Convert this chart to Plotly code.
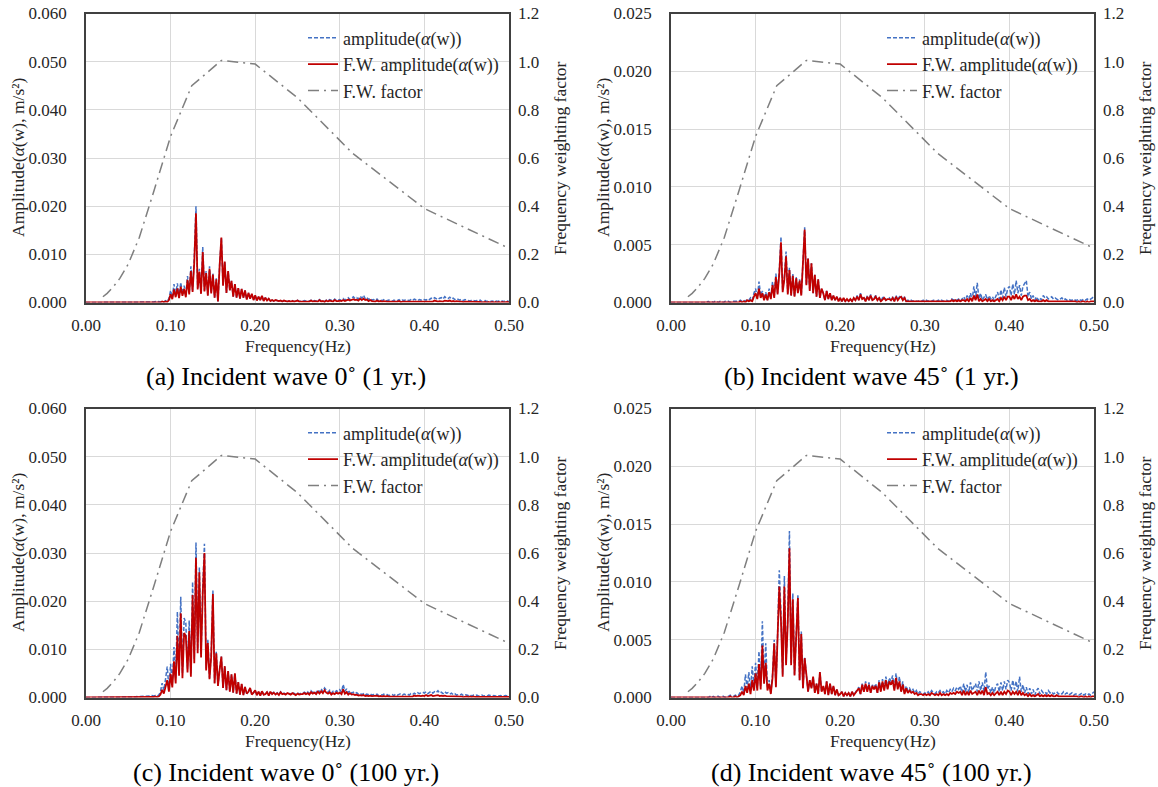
import plotly.graph_objects as go

# ---------------- data ----------------
# frequency grid of the spectra (Hz)
FREQ = [round(i * 0.002, 3) for i in range(251)]
UNIT = 1e-4  # spectra values below are in 1e-4 m/s^2

# frequency weighting factor
WF_FREQ = [0.02, 0.025, 0.0315, 0.04, 0.05, 0.063, 0.08, 0.10, 0.125, 0.16, 0.20, 0.25, 0.315, 0.40, 0.50]
WF_VAL = [0.024, 0.038, 0.062, 0.10, 0.16, 0.27, 0.46, 0.69, 0.90, 1.005, 0.99, 0.85, 0.62, 0.39, 0.225]

# (a) Incident wave 0deg (1 yr.)
A_AMP = [0,0,0,0,0,0,0,0,0,0, 0,0,0,0,0,0,0,0,0,0, 0,0,0,0,0,0,0,0,0,0, 1,1,1,1,1,1,1,1,1,1,
         1,2,1,2,1,3,1,4,2,8, 25,10,38,15,40,12,42,18,35,14, 55,20,75,25,95,200,30,70,20,115,
         25,65,15,75,20,60,10,50,2,80, 135,35,85,20,65,25,45,12,38,10, 30,8,28,10,25,6,20,8,18,5,
         15,4,12,5,14,3,10,4,8,3, 5,3,6,4,3,5,2,4,3,2, 3,2,4,2,3,5,2,3,2,4,
         3,2,3,5,2,4,3,2,6,3, 4,2,5,3,6,4,3,7,4,5, 6,4,8,5,7,10,6,9,12,8,
         10,7,13,9,15,8,11,6,9,5, 6,4,7,3,5,4,6,3,4,5, 4,3,5,3,4,6,3,5,4,6,
         5,4,6,4,7,5,4,6,5,7, 6,5,8,6,9,7,10,8,6,9, 10,7,12,9,8,11,7,9,6,8,
         6,5,7,4,6,5,4,3,5,4, 3,4,3,5,2,3,4,2,3,2, 3,2,4,2,3,2,3,2,4,3, 2]
A_FW = [0,0,0,0,0,0,0,0,0,0, 0,0,0,0,0,0,0,0,0,0, 0,0,0,0,0,0,0,0,0,0, 0,0,0,0,0,0,0,0,0,0,
        0,1,0,1,0,2,1,2,1,5, 17,7,27,11,29,9,33,14,28,11, 47,17,65,22,84,185,27,64,18,105,
        23,61,14,70,19,58,10,48,2,78, 135,35,85,20,65,25,45,12,38,10, 30,8,28,10,25,6,20,8,18,5,
        15,4,12,5,14,3,10,4,8,3, 5,3,5,4,3,4,2,4,3,2, 3,2,3,2,3,4,2,2,2,3,
        2,2,2,4,2,3,2,2,5,2, 3,1,4,2,4,3,2,5,3,3, 4,3,5,3,5,6,4,6,7,5,
        6,4,8,5,8,5,6,3,5,3, 3,2,4,2,3,2,3,2,2,2, 2,1,2,1,2,3,1,2,2,3,
        2,2,2,2,3,2,2,2,2,3, 2,2,3,2,3,2,4,3,2,3, 3,2,4,3,3,4,2,3,2,3,
        2,2,2,1,2,2,1,1,2,1, 1,1,1,1,0,1,1,0,1,0, 1,0,1,0,1,0,1,0,1,1, 0]

# (b) Incident wave 45deg (1 yr.)
B_AMP = [0,0,0,0,0,0,0,0,0,0, 0,0,0,0,0,0,0,0,0,0, 0,0,1,0,1,0,1,1,0,1, 1,0,1,1,1,0,1,1,1,1,
         1,2,1,2,1,3,2,4,2,8, 12,4,18,6,10,3,9,2,12,4, 18,5,25,8,28,57,10,22,44,8,
         30,6,25,5,22,8,20,6,40,65, 15,38,10,34,8,24,5,20,4,12, 8,2,10,3,8,2,6,2,5,1,
         4,1,4,1,3,1,3,1,4,2, 6,2,8,3,5,1,6,2,7,2, 4,6,2,5,1,4,5,2,3,4,
         2,5,1,6,2,5,6,2,5,1, 2,1,2,1,2,1,1,2,1,2, 1,2,1,2,1,2,2,1,2,1,
         2,1,2,2,1,2,3,2,3,2, 3,1,3,5,2,6,3,8,2,14, 4,17,3,8,2,5,7,2,6,3,
         5,2,6,9,3,11,4,13,5,12, 14,6,16,7,19,8,15,6,14,17, 19,5,9,3,6,2,5,2,4,2,
         6,4,5,3,4,5,3,4,3,2, 3,4,2,3,2,3,2,2,3,2, 2,3,2,2,3,2,3,2,3,4, 6]
B_FW = [0,0,0,0,0,0,0,0,0,0, 0,0,0,0,0,0,0,0,0,0, 0,0,0,0,0,0,0,0,0,0, 0,0,0,0,0,0,0,0,0,0,
        0,1,0,1,0,2,1,2,1,5, 8,3,12,4,8,2,7,2,9,3, 15,4,22,7,25,52,9,20,40,7,
        28,6,23,5,21,8,19,6,39,63, 15,38,10,34,8,24,5,20,4,12, 8,2,10,3,8,2,6,2,5,1,
        4,1,4,1,3,1,3,1,4,2, 5,2,7,3,4,1,5,2,6,2, 3,5,2,4,1,3,4,2,3,3,
        2,4,1,5,2,4,5,2,4,1, 1,1,1,1,1,1,1,1,1,1, 1,1,1,1,1,1,1,1,1,1,
        1,1,1,1,1,1,2,1,2,1, 2,1,2,2,1,3,1,4,1,6, 2,7,1,3,1,2,3,1,3,1,
        2,1,2,3,1,4,2,5,2,5, 5,2,6,3,7,3,5,2,5,6, 6,2,3,1,2,1,2,1,1,1,
        2,1,2,1,1,1,1,1,1,1, 1,1,1,1,1,1,1,1,1,1, 0,1,0,1,1,0,1,0,1,1, 1]

# (c) Incident wave 0deg (100 yr.)
C_AMP = [0,0,0,0,0,0,0,0,0,0, 0,0,0,0,0,0,0,0,0,0, 0,1,0,1,1,0,1,1,2,1, 2,1,2,2,3,2,3,2,3,4,
         3,4,3,5,12,30,15,38,64,20, 70,30,105,40,178,60,209,50,165,155, 60,160,50,240,80,322,100,270,90,230,
         319,60,120,40,90,222,30,95,25,60, 85,20,65,15,55,12,48,10,50,8, 32,6,28,5,22,8,12,20,6,10,
         15,5,12,4,14,6,7,12,4,13, 8,11,7,10,6,12,8,9,7,10, 9,7,11,8,6,10,7,9,8,11,
         9,12,8,14,10,13,9,16,11,18, 12,20,14,11,15,9,13,10,14,12, 16,11,27,13,18,10,14,9,11,8,
         10,7,9,6,8,5,7,6,8,5, 6,5,7,4,6,5,7,5,6,4, 5,6,4,7,5,6,8,5,7,6,
         7,5,8,6,9,7,10,8,9,11, 9,12,8,11,13,9,12,10,14,9, 11,8,12,9,10,7,9,6,8,5,
         6,5,7,4,6,5,4,6,3,5, 4,5,3,4,5,3,4,3,5,4, 3,4,3,5,3,4,2,3,4,3, 4]
C_FW = [0,0,0,0,0,0,0,0,0,0, 0,0,0,0,0,0,0,0,0,0, 0,0,0,0,0,0,0,0,0,0, 0,0,0,0,1,0,1,0,1,1,
        1,2,1,2,6,16,8,22,36,12, 49,21,75,29,128,45,175,40,134,127, 52,138,43,213,71,290,92,260,83,215,
        300,56,113,38,85,215,29,92,24,58, 85,20,65,15,55,12,48,10,50,8, 32,6,28,5,22,8,12,20,6,10,
        15,5,12,4,13,6,7,11,4,12, 7,10,6,9,5,11,7,8,6,9, 8,6,9,7,5,8,6,7,7,9,
        7,9,6,11,8,10,7,12,8,13, 9,15,10,8,11,6,9,7,10,8, 10,7,17,8,11,6,9,6,7,5,
        6,4,5,4,5,3,4,3,4,3, 3,3,4,2,3,2,3,2,3,2, 2,3,2,3,2,3,3,2,3,3,
        3,2,3,2,4,3,4,3,3,4, 3,5,3,4,5,3,4,4,5,3, 4,3,4,3,3,2,3,2,3,2,
        2,2,2,1,2,2,1,2,1,2, 1,1,1,1,1,1,1,1,1,1, 1,1,1,1,1,1,0,1,1,1, 1]

# (d) Incident wave 45deg (100 yr.)
D_AMP = [0,0,0,0,0,0,0,0,0,0, 0,0,0,0,0,0,0,0,0,0, 0,0,0,1,0,1,0,1,1,0, 1,1,0,1,1,2,1,1,2,1,
         2,5,10,4,20,8,22,6,27,10, 30,8,40,10,66,15,47,8,15,4, 20,50,10,55,110,73,20,105,30,70,
         144,30,90,20,60,89,15,57,8,35, 20,5,15,8,18,4,12,3,22,5, 10,3,14,2,12,3,10,2,7,2,
         3,5,1,4,2,4,1,5,2,4, 6,9,3,12,5,14,6,13,4,11, 8,12,4,15,6,16,7,18,8,17,
         14,19,7,21,9,18,6,14,4,10, 6,8,5,7,4,6,3,5,4,3, 4,3,5,3,6,4,3,5,4,6,
         4,5,3,6,4,7,5,8,6,9, 7,10,4,12,5,11,4,13,6,9, 12,5,14,6,13,5,22,7,10,4,
         9,4,10,12,5,13,6,14,7,15, 13,6,15,7,14,5,18,5,11,4, 9,3,8,3,7,2,6,8,3,6,
         4,5,3,6,4,5,3,4,5,3, 4,3,5,3,4,2,3,4,2,3, 3,2,3,4,2,3,2,3,2,4, 5]
D_FW = [0,0,0,0,0,0,0,0,0,0, 0,0,0,0,0,0,0,0,0,0, 0,0,0,0,0,0,0,0,0,0, 0,0,0,0,0,1,0,0,1,0,
        1,2,5,2,10,4,12,3,15,6, 21,6,29,7,45,12,30,6,12,3, 17,47,9,48,96,66,18,96,28,64,
        129,28,85,19,56,86,15,55,8,34, 20,5,15,8,18,4,12,3,22,5, 10,3,14,2,12,3,10,2,7,2,
        3,5,1,4,2,4,1,5,2,4, 6,8,3,11,5,12,5,11,4,10, 7,10,4,13,5,14,6,15,7,14,
        11,15,6,17,7,14,5,11,3,8, 4,6,4,5,3,4,2,3,3,2, 3,2,3,2,4,3,2,3,2,4,
        2,3,2,3,2,4,3,4,3,5, 4,5,2,6,2,5,2,6,3,4, 5,2,6,3,6,2,9,3,4,2,
        4,2,4,5,2,5,2,5,3,6, 5,2,5,3,5,2,6,2,4,2, 3,1,3,1,2,1,2,3,1,2,
        1,2,1,2,1,2,1,1,2,1, 1,1,1,1,1,1,1,1,1,1, 1,0,1,1,0,1,0,1,0,1, 1]

PANELS = [
    dict(amp=A_AMP, fw=A_FW, ymax=0.06, ydt=0.01, caption="(a) Incident wave 0˚ (1 yr.)"),
    dict(amp=B_AMP, fw=B_FW, ymax=0.025, ydt=0.005, caption="(b) Incident wave 45˚ (1 yr.)"),
    dict(amp=C_AMP, fw=C_FW, ymax=0.06, ydt=0.01, caption="(c) Incident wave 0˚ (100 yr.)"),
    dict(amp=D_AMP, fw=D_FW, ymax=0.025, ydt=0.005, caption="(d) Incident wave 45˚ (100 yr.)"),
]

# ---------------- layout geometry (pixels) ----------------
W, H = 1158, 787
COLS = [(86, 509), (671, 1094)]
ROWS = [(13.5, 302.5), (408.5, 697.5)]
LEG_DX = [217, 211]

SERIF = "Liberation Serif"
TXT = "#262626"
TICK_FONT = dict(family=SERIF, size=17, color=TXT)
LEG_FONT = dict(family=SERIF, size=18, color=TXT)
TITLE_FONT = dict(family=SERIF, size=17.5, color=TXT)
BLUE, RED, GREY = "#4472C4", "#C00000", "#7F7F7F"
AXLINE = "#404040"
GRID = "#D9D9D9"

fig = go.Figure()
layout = dict(
    width=W, height=H, autosize=False,
    margin=dict(l=0, r=0, t=0, b=0, autoexpand=False),
    paper_bgcolor="white", plot_bgcolor="white",
    showlegend=True,
)
annotations = []

for k, p in enumerate(PANELS):
    r, c = divmod(k, 2)
    x0, x1 = COLS[c]
    y0, y1 = ROWS[r]
    xd = [x0 / W, x1 / W]
    yd = [1 - y1 / H, 1 - y0 / H]
    xn = "x" if k == 0 else f"x{k + 1}"
    yl = "y" if k == 0 else f"y{2 * k + 1}"
    yr = f"y{2 * k + 2}"
    xkey = "xaxis" if k == 0 else f"xaxis{k + 1}"
    ylkey = "yaxis" if k == 0 else f"yaxis{2 * k + 1}"
    yrkey = f"yaxis{2 * k + 2}"
    leg = "legend" if k == 0 else f"legend{k + 1}"

    fig.add_trace(go.Scatter(
        x=FREQ, y=[v * UNIT for v in p["amp"]], mode="lines",
        name="amplitude(<i>α</i>(w))", line=dict(color=BLUE, width=1.5, dash="4px,2px"),
        xaxis=xn, yaxis=yl, legend=leg))
    fig.add_trace(go.Scatter(
        x=FREQ, y=[v * UNIT for v in p["fw"]], mode="lines",
        name="F.W. amplitude(<i>α</i>(w))", line=dict(color=RED, width=1.8),
        xaxis=xn, yaxis=yl, legend=leg))
    fig.add_trace(go.Scatter(
        x=WF_FREQ, y=WF_VAL, mode="lines",
        name="F.W. factor", line=dict(color=GREY, width=1.5, dash="11px,5px,2px,5px"),
        xaxis=xn, yaxis=yr, legend=leg))

    layout[xkey] = dict(
        domain=xd, anchor=yl, range=[0, 0.5], tick0=0, dtick=0.1, tickformat=".2f",
        showgrid=True, gridcolor=GRID, gridwidth=1, zeroline=False,
        showline=True, linecolor=AXLINE, linewidth=1.5, mirror=True, automargin=False,
        ticks="", tickfont=TICK_FONT, ticklabelstandoff=6, fixedrange=True)
    layout[ylkey] = dict(
        domain=yd, anchor=xn, range=[0, p["ymax"]], tick0=0, dtick=p["ydt"], tickformat=".3f",
        showgrid=True, gridcolor=GRID, gridwidth=1, zeroline=False,
        showline=True, linecolor=AXLINE, linewidth=1.5, mirror=True, automargin=False,
        ticks="", tickfont=TICK_FONT, ticklabelstandoff=14, fixedrange=True)
    layout[yrkey] = dict(
        domain=yd, anchor=xn, overlaying=yl, side="right", range=[0, 1.2], tick0=0, dtick=0.2,
        tickformat=".1f", showgrid=False, zeroline=False, showline=False, automargin=False,
        ticks="", tickfont=TICK_FONT, ticklabelstandoff=8, fixedrange=True)
    layout[leg] = dict(
        x=(x0 + LEG_DX[c]) / W, y=1 - (y0 + 6) / H, xanchor="left", yanchor="top",
        bgcolor="rgba(255,255,255,0)", borderwidth=0, font=LEG_FONT,
        itemwidth=30, tracegroupgap=0)

    # axis titles and caption
    annotations.append(dict(
        x=(x0 - 68) / W, y=1 - (y0 + y1) / 2 / H, xref="paper", yref="paper",
        text="Amplitude(<i>α</i>(w), m/s²)", textangle=-90, showarrow=False,
        font=TITLE_FONT, xanchor="center", yanchor="middle"))
    annotations.append(dict(
        x=(x1 + 51) / W, y=1 - (y0 + y1) / 2 / H, xref="paper", yref="paper",
        text="Frequency weighting factor", textangle=-90, showarrow=False,
        font=TITLE_FONT, xanchor="center", yanchor="middle"))
    annotations.append(dict(
        x=(x0 + x1) / 2 / W, y=1 - (y1 + 43.5) / H, xref="paper", yref="paper",
        text="Frequency(Hz)", showarrow=False,
        font=TITLE_FONT, xanchor="center", yanchor="middle"))
    annotations.append(dict(
        x=(x0 + 200) / W, y=1 - (y1 + 74.5) / H, xref="paper", yref="paper",
        text=p["caption"], showarrow=False,
        font=dict(family=SERIF, size=26, color="black"), xanchor="center", yanchor="middle"))

layout["annotations"] = annotations
fig.update_layout(**layout)
fig.write_html("out.html")
